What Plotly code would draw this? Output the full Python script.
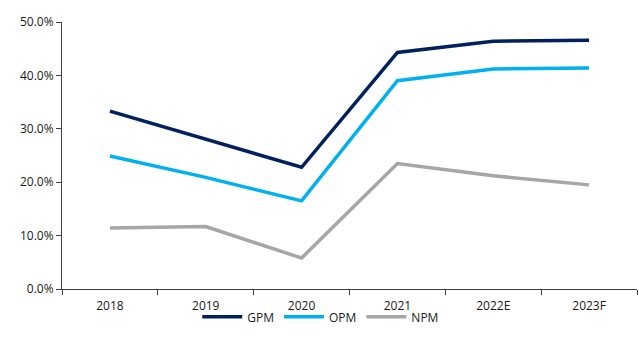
import plotly.graph_objects as go

years = ["2018", "2019", "2020", "2021", "2022E", "2023F"]
gpm = [33.3, 28.1, 22.8, 44.3, 46.4, 46.6]
opm = [24.9, 20.9, 16.5, 39.0, 41.2, 41.4]
npm = [11.4, 11.7, 5.8, 23.5, 21.2, 19.5]

fig = go.Figure()
for name, vals, col in [("GPM", gpm, "#002060"), ("OPM", opm, "#00B0F0"), ("NPM", npm, "#A6A6A6")]:
    fig.add_trace(go.Scatter(x=years, y=[v / 100 for v in vals], name=name, mode="lines",
                             line=dict(color=col, width=3.5)))

fig.update_layout(
    width=639, height=351,
    margin=dict(l=62, r=2, t=22, b=62, autoexpand=False),
    paper_bgcolor="white", plot_bgcolor="white",
    font=dict(family="Open Sans, Liberation Sans, sans-serif", size=12, color="#1a1a1a"),
    showlegend=True,
    legend=dict(orientation="h", x=0.45, xanchor="center", y=-0.05, yanchor="top",
                bgcolor="rgba(0,0,0,0)",
                font=dict(size=12), itemwidth=40, tracegroupgap=0),
)
fig.update_xaxes(type="category", range=[-0.5, 5.5], showline=True, linecolor="#404040", linewidth=1,
                 ticks="outside", tickson="boundaries", ticklen=5, tickcolor="#404040",
                 ticklabelstandoff=6, showgrid=False, zeroline=False)
fig.update_yaxes(range=[0, 0.5], dtick=0.1, tickformat=".1%", showline=True, linecolor="#404040",
                 linewidth=1, ticks="outside", ticklen=5, tickcolor="#404040", showgrid=False,
                 zeroline=False)

fig.write_html("out.html")
